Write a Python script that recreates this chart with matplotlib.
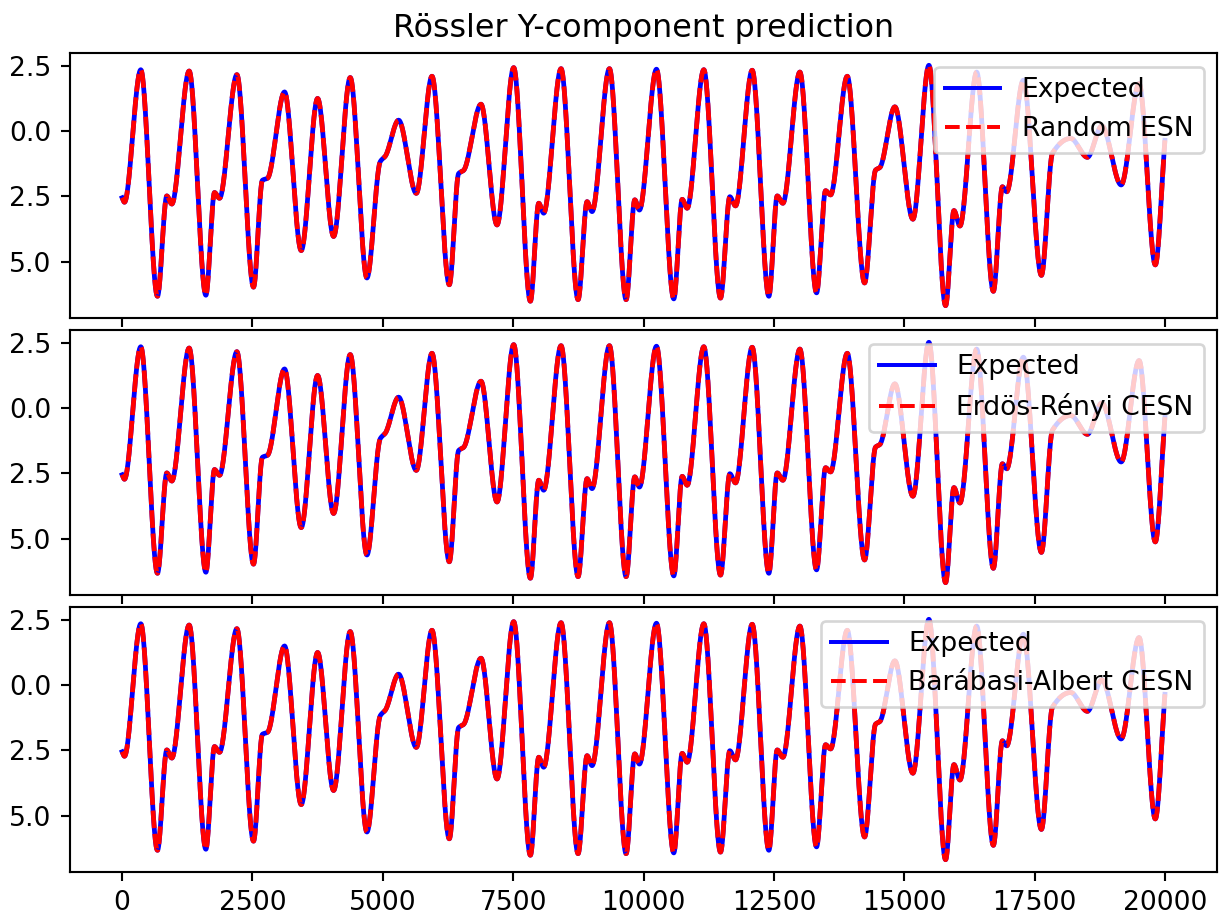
import numpy as np
import matplotlib
matplotlib.use("Agg")
import matplotlib.pyplot as plt
from matplotlib.ticker import FuncFormatter

# Turning points of the Rössler y(t) trace: sample index and value
key_t = [0, 45, 358, 678, 857, 953, 1286, 1606, 1772, 1868, 2201, 2520,
         2690, 2790, 3115, 3435, 3749, 4056, 4375, 4695, 4950, 5050, 5303,
         5642, 5943, 6275, 6454, 6550, 6883, 7190, 7510, 7830, 7990, 8085,
         8418, 8745, 8917, 9013, 9346, 9666, 9832, 9921, 10248, 10580, 10741,
         10837, 11156, 11476, 11655, 11764, 12084, 12403, 12564, 12672, 12998,
         13318, 13491, 13587, 13907, 14239, 14450, 14533, 14820, 15166, 15473,
         15793, 15953, 16068, 16389, 16709, 16882, 16965, 17284, 17630, 17841,
         18193, 18513, 18790, 19160, 19504, 19815, 19999]
key_y = [-2.55, -2.72, 2.35, -6.32, -2.48, -2.79, 2.30, -6.28, -2.35, -2.57,
         2.16, -5.97, -1.88, -1.80, 1.50, -4.57, 1.25, -4.03, 2.05, -5.62,
         -1.17, -0.95, 0.42, -2.38, 2.10, -5.88, -1.62, -1.50, 1.03, -3.59,
         2.43, -6.51, -2.76, -3.14, 2.39, -6.45, -2.70, -3.08, 2.39, -6.45,
         -2.63, -3.02, 2.37, -6.42, -2.61, -2.95, 2.35, -6.39, -2.51, -2.86,
         2.33, -6.32, -2.48, -2.76, 2.26, -6.19, -2.28, -2.44, 2.10, -5.81,
         -1.49, -1.39, 0.93, -3.37, 2.52, -6.68, -3.04, -3.63, 2.26, -6.13,
         -2.13, -2.32, 1.95, -5.52, -0.85, -0.28, -1.00, 0.20, -2.06, 1.82,
         -5.12, -0.35]

n_samples = 20000
models = ["Random ESN", "Erdös-Rényi CESN", "Barábasi-Albert CESN"]


def monotone_cubic(xk, yk, x):
    """Shape-preserving cubic Hermite curve through the turning points."""
    xk = np.asarray(xk, float)
    yk = np.asarray(yk, float)
    h = np.diff(xk)
    d = np.diff(yk) / h
    m = np.zeros_like(yk)
    for k in range(1, len(xk) - 1):
        if d[k - 1] * d[k] > 0:
            w1 = 2 * h[k] + h[k - 1]
            w2 = h[k] + 2 * h[k - 1]
            m[k] = (w1 + w2) / (w1 / d[k - 1] + w2 / d[k])
    m[0] = d[0]
    m[-1] = d[-1]
    idx = np.clip(np.searchsorted(xk, x) - 1, 0, len(h) - 1)
    s = (x - xk[idx]) / h[idx]
    h00 = 2 * s**3 - 3 * s**2 + 1
    h10 = s**3 - 2 * s**2 + s
    h01 = -2 * s**3 + 3 * s**2
    h11 = s**3 - s**2
    return (h00 * yk[idx] + h10 * h[idx] * m[idx]
            + h01 * yk[idx + 1] + h11 * h[idx] * m[idx + 1])


t = np.arange(n_samples)
expected = monotone_cubic(key_t, key_y, t)
predicted = {name: expected.copy() for name in models}

dpi = 190.5
fig, axes = plt.subplots(3, 1, sharex=True,
                         figsize=(1219 / dpi, 917 / dpi), dpi=dpi)
fig.subplots_adjust(left=0.0574, right=0.9984, top=0.9419, bottom=0.0494,
                    hspace=0.0477)

unsigned = FuncFormatter(lambda v, _: f"{abs(v):.1f}")

for ax, name in zip(axes, models):
    ax.plot(t, expected, color="b", lw=1.8, label="Expected")
    ax.plot(t, predicted[name], color="r", ls=(0, (3.7, 1.2)), lw=1.8,
            label=name)
    ax.set_yticks([-5.0, -2.5, 0.0, 2.5])
    ax.yaxis.set_major_formatter(unsigned)
    leg = ax.legend(loc="upper right", fontsize=10, handlelength=2.1)
    for line in leg.get_lines():
        line.set_linewidth(1.5)
    leg.get_lines()[1].set_dashes((3.7, 1.6))
    ax.tick_params(labelsize=10)

axes[0].set_title("Rössler Y-component prediction", fontsize=12)
axes[-1].set_xticks(np.arange(0, 20001, 2500))

fig.savefig("out.png", dpi=dpi)
